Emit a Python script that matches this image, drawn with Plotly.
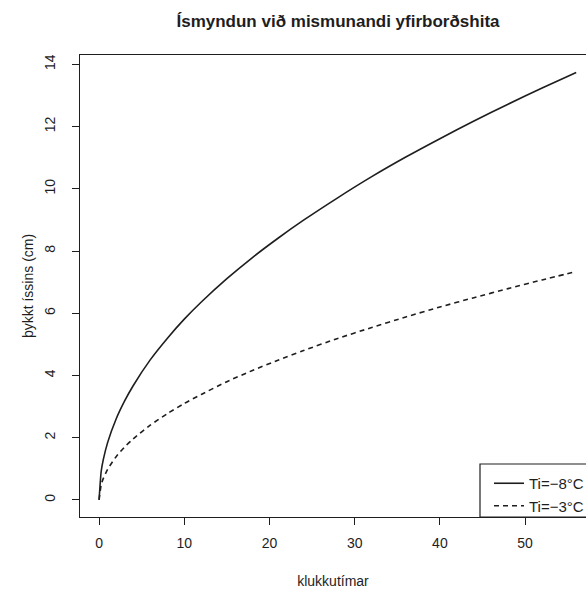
import plotly.graph_objects as go

# Hours (klukkutímar)
hours = [0, 0.25, 0.5, 1, 2, 3, 4, 6, 8, 10, 12, 15, 18, 21, 24, 28, 32, 36, 40, 44, 48, 52, 56]
# Ice thickness (cm), Ti = -8°C
ice_m8 = [0, 0.92, 1.30, 1.84, 2.60, 3.18, 3.67, 4.50, 5.19, 5.81, 6.36, 7.11, 7.79, 8.41,
          8.99, 9.71, 10.39, 11.02, 11.61, 12.18, 12.72, 13.24, 13.74]
# Ice thickness (cm), Ti = -3°C
ice_m3 = [0, 0.49, 0.69, 0.98, 1.39, 1.70, 1.96, 2.40, 2.77, 3.10, 3.39, 3.80, 4.16, 4.49,
          4.80, 5.19, 5.54, 5.88, 6.20, 6.50, 6.79, 7.07, 7.34]

x_ticks = [0, 10, 20, 30, 40, 50]
y_ticks = [0, 2, 4, 6, 8, 10, 12, 14]
series_names = ["Ti=−8°C", "Ti=−3°C"]

W, H = 586, 589
L, R, T, B = 80, 0, 55, 72
FONT = "Liberation Sans, Arial, sans-serif"
INK = "#1e1e1e"

fig = go.Figure()
fig.add_trace(go.Scatter(x=hours, y=ice_m8, mode="lines", name=series_names[0],
                         line=dict(color=INK, width=1.6, shape="spline", smoothing=0.6)))
fig.add_trace(go.Scatter(x=hours, y=ice_m3, mode="lines", name=series_names[1],
                         line=dict(color=INK, width=1.6, dash="5px,4px", shape="spline", smoothing=0.6)))

pw = W - L - R
ph = H - T - B

def px_x(p):
    return (p - L) / pw

def px_y(p):
    return 1 - (p - T) / ph

# legend box (extends beyond the right edge like the reference)
fig.add_shape(type="rect", xref="paper", yref="paper",
              x0=px_x(480), x1=px_x(640), y0=px_y(517), y1=px_y(464),
              line=dict(color=INK, width=1.2), fillcolor="white", layer="above")

fig.update_layout(
    width=W, height=H,
    margin=dict(l=L, r=R, t=T, b=B, autoexpand=False),
    paper_bgcolor="white", plot_bgcolor="white",
    font=dict(family=FONT, size=14, color=INK),
    title=dict(text="<b>Ísmyndun við mismunandi yfirborðshita</b>",
               x=338 / W, xref="container", xanchor="center",
               y=1 - 21 / H, yref="container", yanchor="middle",
               font=dict(size=17, family=FONT, color=INK)),
    showlegend=True,
    legend=dict(x=px_x(489), y=px_y(467), xanchor="left", yanchor="top",
                bgcolor="rgba(0,0,0,0)", borderwidth=0,
                font=dict(size=15, family=FONT, color=INK),
                tracegroupgap=0, itemwidth=30),
    xaxis=dict(range=[-2.24, (W - L) / 8.52 - 2.24], tickvals=x_ticks,
               showgrid=False, zeroline=False, showline=True, linecolor=INK, linewidth=1.2,
               mirror=True, ticks="outside", ticklen=7, tickcolor=INK, tickwidth=1.2,
               ticklabelstandoff=6,
               tickfont=dict(size=14, family=FONT, color=INK),
               title=dict(text="klukkutímar", standoff=27, font=dict(size=14, family=FONT, color=INK))),
    yaxis=dict(range=[-0.55, 14.3], tickvals=y_ticks, tickangle=-90,
               showgrid=False, zeroline=False, showline=True, linecolor=INK, linewidth=1.2,
               ticks="outside", ticklen=7, tickcolor=INK, tickwidth=1.2,
               ticklabelstandoff=11,
               tickfont=dict(size=14, family=FONT, color=INK),
               title=dict(text="þykkt íssins (cm)", standoff=5, font=dict(size=14, family=FONT, color=INK))),
)

fig.write_html("out.html")
